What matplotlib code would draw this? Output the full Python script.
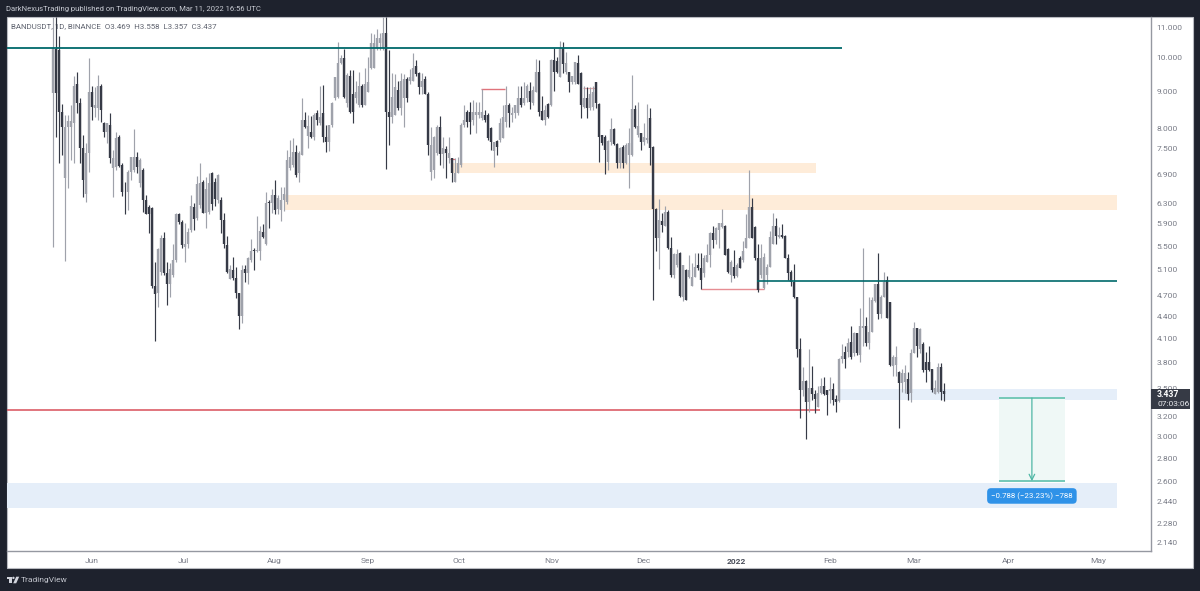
import numpy as np
import matplotlib
matplotlib.use('Agg')
import matplotlib.pyplot as plt
from matplotlib.patches import Rectangle, Polygon, Ellipse

plt.rcParams['font.family'] = ['Roboto', 'DejaVu Sans']

# BANDUSDT daily candles, first bar sits at x=0
opens = [
    8.94,10.29,10.26,8.43,6.83,8.04,8.04,8.14,9.20,8.67,
    7.52,6.48,7.39,8.97,8.53,8.53,9.14,8.14,7.90,8.09,
    7.05,7.07,7.78,7.12,6.54,6.52,6.96,7.01,7.30,6.72,
    7.00,6.37,6.23,6.21,4.85,4.73,5.07,5.65,5.05,4.88,
    5.02,5.26,6.08,5.93,5.49,5.53,5.79,6.23,6.02,6.27,
    6.75,6.11,6.13,6.94,6.75,6.37,6.37,5.98,5.52,4.96,
    5.10,4.97,4.73,4.40,5.12,5.05,5.26,5.43,5.41,5.41,
    5.75,5.54,6.33,6.31,6.47,6.19,6.17,6.37,6.33,7.05,
    7.12,7.42,6.94,7.35,8.22,7.80,7.90,7.78,8.40,8.14,
    8.40,7.78,7.66,8.09,8.81,8.84,9.83,10.00,8.67,9.43,
    8.92,8.81,8.61,9.14,8.61,8.97,9.70,9.70,10.32,10.49,
    10.32,10.82,8.43,8.30,8.35,9.03,8.53,8.81,9.34,9.28,
    9.28,9.74,9.54,9.11,9.34,8.92,6.96,7.00,7.39,8.04,
    7.37,7.49,7.28,7.28,6.75,6.94,7.12,8.09,8.43,8.43,
    8.22,8.35,8.35,8.27,8.35,8.35,8.01,7.44,7.68,7.71,
    7.76,8.17,8.61,8.35,8.40,8.40,8.81,8.67,8.81,9.00,
    8.67,8.97,9.57,8.45,8.22,8.64,8.61,9.95,9.89,9.40,
    10.32,9.57,9.57,9.26,9.26,9.83,9.54,8.56,8.81,8.53,
    8.56,9.26,8.64,7.83,7.78,7.19,7.66,7.97,7.61,7.16,
    7.54,7.16,7.35,7.35,8.51,7.83,7.88,7.66,7.71,8.27,
    7.54,6.19,5.65,5.95,5.86,6.13,5.46,5.02,5.18,5.38,
    4.67,5.10,4.99,4.85,4.99,5.18,5.13,5.05,5.23,5.34,
    5.73,5.60,5.79,5.84,5.86,5.45,5.02,5.15,5.00,5.29,
    5.26,5.47,5.65,6.23,5.84,5.29,5.02,4.81,5.02,5.15,
    5.54,5.86,5.66,5.70,5.68,5.29,5.07,4.90,4.67,3.96,
    3.48,3.58,3.35,3.50,3.44,3.30,3.45,3.52,3.48,3.47,
    3.49,3.38,3.36,3.84,3.93,3.93,4.06,3.92,4.17,3.89,
    4.24,4.26,4.04,4.19,4.62,4.88,4.43,4.67,4.93,4.60,
    3.76,3.77,3.68,3.56,3.57,3.60,3.45,3.92,4.24,3.96,
    4.03,3.81,3.81,3.72,3.44,3.46,3.74,3.469]
highs = [
    11.39,11.39,10.72,8.65,8.35,8.35,8.61,9.43,9.57,8.81,
    7.83,7.64,10.01,9.14,9.11,9.46,9.20,8.17,8.14,8.40,
    7.46,7.90,7.83,7.16,6.75,7.00,7.30,7.97,7.42,7.28,
    7.05,6.47,6.27,6.23,5.23,5.46,5.70,5.75,5.23,5.21,
    5.53,6.11,6.11,5.98,5.91,5.82,6.47,6.31,6.87,7.16,
    6.79,6.85,6.94,6.96,6.83,6.91,6.43,6.11,5.68,5.18,
    5.31,5.15,4.73,5.18,5.18,5.31,5.63,5.46,6.06,5.86,
    5.90,6.54,6.37,6.60,6.79,6.47,6.64,6.64,7.46,7.71,
    7.76,7.59,7.44,8.81,8.43,8.35,8.32,8.40,8.48,9.14,
    9.17,8.09,8.09,8.69,9.40,10.52,10.10,10.29,9.54,9.63,
    9.63,9.28,9.57,9.20,9.70,10.04,10.82,10.79,10.96,10.82,
    11.39,11.39,10.26,9.54,9.49,9.28,9.54,9.49,9.40,9.66,
    10.16,9.95,9.57,9.54,9.43,8.97,8.04,7.80,8.09,8.32,
    7.78,7.57,7.78,7.28,7.28,7.30,8.14,8.61,8.48,8.69,
    8.75,8.69,8.69,9.06,8.48,8.40,8.04,7.66,7.71,8.27,
    8.61,9.14,8.67,8.56,8.61,9.14,9.14,9.26,9.20,9.26,
    9.14,9.98,9.95,8.86,8.61,8.67,9.98,10.32,10.04,10.56,
    10.52,10.20,9.57,9.43,9.86,10.10,9.57,9.14,9.11,9.11,
    9.14,9.26,8.67,7.83,7.83,7.71,8.27,8.01,7.64,7.54,
    7.59,7.64,8.01,9.46,8.61,8.69,7.88,8.14,8.64,8.53,
    7.57,6.21,6.39,6.11,6.25,6.17,5.66,5.38,5.45,5.39,
    5.18,5.12,5.34,5.21,5.38,5.38,5.38,5.34,5.53,5.75,
    5.86,5.84,5.91,6.19,5.88,5.46,5.26,5.43,5.21,5.33,
    5.58,6.08,7.00,6.41,5.86,5.53,5.54,5.38,5.20,5.77,
    6.11,6.02,5.84,5.90,5.70,5.36,5.09,5.20,4.67,4.11,
    3.74,3.59,3.97,3.75,3.48,3.52,3.62,3.63,3.48,3.63,
    3.56,3.43,3.85,4.03,4.00,4.11,4.26,4.18,4.17,4.52,
    5.47,4.39,4.67,4.67,4.88,5.38,4.70,5.07,5.00,4.60,
    3.89,4.00,3.70,3.72,3.77,3.68,3.96,4.32,4.24,4.24,
    4.05,3.93,4.00,3.72,3.59,3.79,3.79,3.558]
lows = [
    5.48,7.78,7.16,7.35,5.24,6.62,7.23,7.16,8.40,7.16,
    6.42,6.33,6.96,8.22,8.30,8.22,8.17,7.78,7.64,7.16,
    6.42,7.00,7.07,6.44,6.08,6.17,6.79,6.96,6.94,6.64,
    6.13,6.08,5.74,4.82,4.07,4.53,5.02,5.02,4.56,4.67,
    4.99,5.23,5.90,5.47,5.23,5.46,5.75,5.79,5.98,6.21,
    6.11,5.82,6.09,6.17,6.25,6.31,5.74,5.46,5.04,4.96,
    4.94,4.66,4.23,4.30,4.90,4.88,5.23,5.10,5.39,5.26,
    5.65,5.51,5.82,6.11,6.08,6.08,5.96,6.15,6.29,7.00,
    7.07,6.85,6.75,7.35,8.01,7.52,7.76,7.71,8.09,8.09,
    7.66,7.42,7.44,8.04,8.75,8.81,9.80,8.81,8.56,8.40,
    8.14,8.67,8.56,8.56,8.61,8.97,9.66,9.68,10.26,10.26,
    10.26,7.02,7.59,8.14,8.35,8.48,8.35,8.04,8.69,9.20,
    9.28,9.43,8.92,8.92,8.92,7.35,6.79,6.83,7.35,7.12,
    7.05,6.83,7.16,6.75,6.75,6.94,7.07,8.04,8.04,7.85,
    8.09,7.88,8.27,8.22,8.17,7.71,7.46,7.07,7.35,7.66,
    7.76,8.04,8.04,8.17,8.27,8.35,8.56,8.61,8.69,8.51,
    8.61,8.97,8.32,8.22,8.09,8.27,8.59,9.00,9.54,9.40,
    9.54,9.49,8.97,9.20,9.20,9.20,8.27,8.53,8.27,8.48,
    8.48,8.53,7.19,7.59,6.91,7.00,7.59,7.59,7.05,7.05,
    7.05,7.14,6.62,7.32,8.01,7.78,7.46,7.59,7.64,7.12,
    4.64,5.41,5.12,5.75,5.86,5.45,4.99,4.97,5.15,4.67,
    4.62,4.64,4.97,4.85,4.99,5.10,4.79,4.99,5.23,5.15,
    5.46,5.54,5.47,5.82,5.34,5.05,4.91,4.97,4.99,5.13,
    5.23,5.47,5.65,5.65,5.26,4.75,4.97,4.79,4.88,5.15,
    5.54,5.54,5.65,5.65,5.29,4.94,4.84,4.66,3.86,3.18,
    3.41,2.98,3.25,3.37,3.23,3.30,3.44,3.43,3.21,3.34,
    3.32,3.25,3.35,3.79,3.73,3.86,3.84,3.88,3.89,3.81,
    4.00,4.00,3.96,4.19,4.60,4.36,4.38,4.67,4.38,3.76,
    3.64,3.64,3.08,3.46,3.45,3.37,3.35,3.92,3.86,3.92,
    3.68,3.57,3.70,3.46,3.44,3.45,3.37,3.357]
closes = [
    10.32,8.94,8.43,8.04,8.04,8.19,8.19,9.14,8.67,7.52,
    6.79,7.39,8.97,8.56,8.61,9.14,8.48,7.90,8.12,7.28,
    7.28,7.76,7.10,6.54,6.52,6.96,7.30,7.30,7.07,7.23,
    6.37,6.08,6.08,4.85,4.72,5.45,5.65,5.05,4.88,5.12,
    5.26,6.08,5.94,5.51,5.53,5.75,6.25,6.00,6.70,6.72,
    6.11,6.60,6.72,6.29,6.39,6.89,5.98,5.54,5.07,5.12,
    4.97,4.73,4.40,5.10,5.05,5.29,5.41,5.41,5.43,5.77,
    5.66,6.31,6.31,6.47,6.17,6.41,6.37,6.49,7.23,7.30,
    7.42,6.89,7.39,8.22,8.04,8.06,7.78,8.35,8.22,8.30,
    7.78,7.66,8.09,8.67,9.40,9.83,10.00,8.84,9.46,8.43,
    8.43,8.97,9.14,8.61,9.20,9.26,10.49,10.49,10.66,10.66,
    10.82,8.43,8.30,8.84,9.11,8.53,9.28,9.34,8.81,9.40,
    9.70,9.49,9.11,9.28,8.92,7.59,7.59,7.78,8.04,7.37,
    7.52,7.39,7.39,6.94,6.94,7.16,8.09,8.22,8.17,8.17,
    8.43,8.43,8.43,8.43,8.22,7.76,7.66,7.66,7.54,8.12,
    8.30,8.61,8.40,8.40,8.61,8.81,8.61,8.81,9.14,8.69,
    9.03,9.57,8.43,8.22,8.48,8.30,9.95,9.57,9.57,10.32,
    9.80,9.83,9.26,9.43,9.86,9.20,8.61,8.81,8.53,8.92,
    8.97,8.67,7.78,7.64,7.46,7.68,7.97,7.61,7.16,7.52,
    7.16,7.59,7.64,8.51,8.04,8.06,7.66,7.78,7.76,7.52,
    6.19,5.65,5.98,5.88,6.13,5.46,5.02,5.36,5.36,4.69,
    5.17,4.64,5.10,4.98,5.15,5.13,4.94,5.29,5.34,5.73,
    5.60,5.82,5.91,5.91,5.34,5.07,5.23,5.00,5.18,5.13,
    5.41,5.65,6.23,5.65,5.29,4.78,5.29,5.31,5.15,5.66,
    5.86,5.68,5.70,5.66,5.29,5.05,4.90,4.67,3.96,3.48,
    3.58,3.35,3.50,3.44,3.38,3.45,3.52,3.44,3.43,3.49,
    3.37,3.35,3.84,3.88,3.84,4.04,3.86,4.17,3.92,4.26,
    4.26,4.04,4.19,4.63,4.88,4.43,4.68,4.90,4.38,3.77,
    3.86,3.86,3.56,3.67,3.67,3.44,3.92,4.24,4.00,4.23,
    3.71,3.71,3.71,3.48,3.50,3.74,3.46,3.437]

# axis labels
price_ticks = [11, 10, 9, 8, 7.5, 6.9, 6.3, 5.9, 5.5, 5.1, 4.7, 4.4, 4.1, 3.8,
               3.5, 3.2, 3.0, 2.8, 2.6, 2.44, 2.28, 2.14]
month_pos = [13.1, 43.4, 74, 105, 135.4, 166.4, 197, 228, 259, 287, 318.5, 348.5]
month_labels = ['Jun', 'Jul', 'Aug', 'Sep', 'Oct', 'Nov', 'Dec', '2022', 'Feb', 'Mar', 'Apr', 'May']

# measuring tool
entry_price = 3.392
target_price = 2.604
measure_text = '\u22120.788 (\u221223.23%) \u2212788'

W, H = 1200, 591
DARK = '#1e222d'
UP = '#9fa2ab'
DOWN = '#363a46'
LABEL = '#787b86'
ORANGE = '#feecd9'
BLUE = '#e5eef9'
TEAL = '#00696b'
RED = '#d9505a'


def fx(x):
    return x / W


def fy(y):
    return 1 - y / H


fig = plt.figure(figsize=(W / 100, H / 100), dpi=100, facecolor=DARK)

# white chart panel behind the axes
fig.add_artist(Rectangle((fx(7), fy(568)), fx(1186), (568 - 17) / H, transform=fig.transFigure,
                         fc='white', ec='#b8bac0', lw=0.8, zorder=-1))

ax = fig.add_axes([fx(7), fy(551), fx(1144), (551 - 17) / H])
ax.patch.set_visible(False)
ax.set_yscale('log')
ax.set_xlim(-15.23, 366.1)
ax.set_ylim(2.086, 11.39)
ax.minorticks_off()

ax.yaxis.tick_right()
ax.set_yticks(price_ticks)
ax.set_yticklabels(['%.3f' % p for p in price_ticks])
ax.set_xticks(month_pos)
ax.set_xticklabels(month_labels)
ax.tick_params(axis='both', length=0, labelsize=6.0, labelcolor=LABEL)
ax.tick_params(axis='y', pad=4)
ax.tick_params(axis='x', pad=5)
ax.get_xticklabels()[7].set_fontweight('bold')
ax.get_xticklabels()[7].set_color('#4a4e5a')
for s in ['top', 'left']:
    ax.spines[s].set_visible(False)
for s in ['right', 'bottom']:
    ax.spines[s].set_color('#9598a1')
    ax.spines[s].set_linewidth(1.0)

# zones
ax.fill_between([133.1, 254.4], 6.94, 7.16, color=ORANGE, lw=0, zorder=1)
ax.fill_between([77.4, 354.8], 6.17, 6.47, color=ORANGE, lw=0, zorder=1)
ax.fill_between([261.8, 354.8], 3.37, 3.49, color=BLUE, lw=0, zorder=1)
ax.fill_between([-15.23, 354.8], 2.39, 2.59, color=BLUE, lw=0, zorder=1)

# symbol line goes under the candles
fig.text(fx(11), fy(26), 'BANDUSDT, 1D, BINANCE  O3.469  H3.558  L3.357  C3.437',
         fontsize=5.7, color='#5f636f', va='center', zorder=-0.5)

# horizontal levels
ax.hlines(10.32, -15.23, 263.1, color=TEAL, lw=1.3, zorder=4)
ax.hlines(4.92, 234.8, 354.8, color=TEAL, lw=1.2, zorder=4)
ax.hlines(3.27, -15.23, 255.8, color=RED, lw=1.1, zorder=2)
ax.hlines(9.06, 142.7, 150.9, color=RED, lw=1.0, alpha=0.8, zorder=2)
ax.hlines(9.09, 176.8, 180.8, color=RED, lw=0.9, alpha=0.5, zorder=2)
ax.hlines(7.25, 132.4, 134.2, color=RED, lw=0.9, alpha=0.8, zorder=2)
ax.hlines(4.79, 216, 237, color=RED, lw=1.0, alpha=0.65, zorder=2)

# candles
x = np.arange(len(closes))
o = np.array(opens)
h = np.array(highs)
l = np.array(lows)
c = np.array(closes)
up = c >= o
for mask, col in [(up, UP), (~up, DOWN)]:
    ax.vlines(x[mask], l[mask], h[mask], color=col, lw=0.85, zorder=3)
    ax.vlines(x[mask], np.minimum(o, c)[mask], np.maximum(o, c)[mask], color=col, lw=1.7, zorder=3)

# measuring tool
ax.fill_between([315.4, 337.4], target_price, entry_price, color='#eff8f6', lw=0, zorder=2)
ax.hlines([entry_price, target_price], 315.4, 337.4, color='#74c8b8', lw=1.4, zorder=3)
ax.annotate('', xy=(326.4, target_price), xytext=(326.4, entry_price),
            arrowprops=dict(arrowstyle='->', color='#4fb7a5', lw=0.9, shrinkA=0, shrinkB=0), zorder=3)
ax.text(326.4, 2.485, measure_text, ha='center', va='center', fontsize=5.7, color='white',
        zorder=5, bbox=dict(boxstyle='round,pad=0.5', fc='#2f92e8', ec='none'))

# last price tag on the scale
fig.add_artist(Rectangle((fx(1151), fy(409)), fx(39), 20 / H, transform=fig.transFigure,
                         fc='#363a45', ec='none', zorder=3))
fig.text(fx(1157), fy(394.5), '3.437', fontsize=6.2, color='white', fontweight='bold', va='center', zorder=4)
fig.text(fx(1157), fy(403.5), '07:03:06', fontsize=6.0, color='#e8e9ec', va='center', zorder=4)

# header and footer on the dark frame
fig.text(fx(6.5), fy(9), 'DarkNexusTrading published on TradingView.com, Mar 11, 2022 16:56 UTC',
         fontsize=5.5, color='#c8cbd3', va='center')
logo = '#d1d4dc'
fig.add_artist(Polygon([(fx(6.7), fy(576.7)), (fx(12), fy(576.7)), (fx(12), fy(583.3)), (fx(9.4), fy(583.3)),
                        (fx(9.4), fy(579.2)), (fx(6.7), fy(579.2))], transform=fig.transFigure, fc=logo, ec='none'))
fig.add_artist(Ellipse((fx(13.4), fy(577.9)), 2.4 / W, 2.4 / H, transform=fig.transFigure, fc=logo, ec='none'))
fig.add_artist(Polygon([(fx(16.2), fy(576.7)), (fx(19.2), fy(576.7)), (fx(16.2), fy(583.3)), (fx(13.2), fy(583.3))],
                       transform=fig.transFigure, fc=logo, ec='none'))
fig.text(fx(21), fy(580), 'TradingView', fontsize=6.0, color='#c3c6ce', va='center')

fig.savefig('out.png', dpi=100, facecolor=DARK)
